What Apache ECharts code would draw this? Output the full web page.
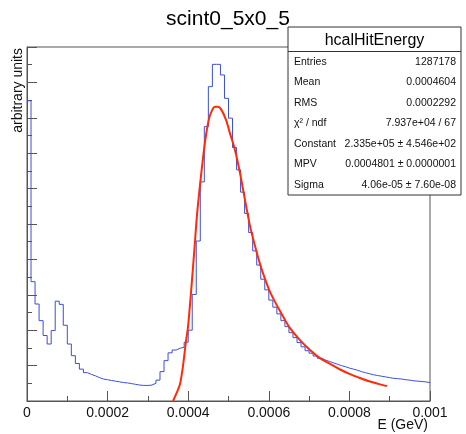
<!DOCTYPE html>
<html>
<head>
<meta charset="utf-8">
<script src="https://cdn.jsdelivr.net/npm/echarts@6/dist/echarts.min.js"></script>
<style>
  html, body { margin: 0; padding: 0; background: #fff; }
  #hist { width: 466px; height: 434px; }
</style>
</head>
<body>
<div id="hist"></div>
<script>
// histogram: 100 bins of 1e-5 GeV, heights in arbitrary units
var binWidth = 0.00001;
var counts = [
  8.48, 3.37, 2.74, 2.27, 1.85, 1.61, 1.99, 2.82, 2.73, 2.14,
  1.61, 1.28, 1.06, 0.90, 0.80, 0.75, 0.71, 0.66, 0.62, 0.60,
  0.58, 0.56, 0.54, 0.52, 0.51, 0.49, 0.47, 0.45, 0.44, 0.44,
  0.45, 0.50, 0.59, 0.83, 1.14, 1.36, 1.44, 1.49, 1.52, 1.66,
  2.00, 3.01, 4.52, 6.19, 7.75, 8.88, 9.51, 9.51, 9.21, 8.55,
  7.99, 7.16, 6.53, 5.90, 5.30, 4.76, 4.24, 3.84, 3.44, 3.14,
  2.85, 2.65, 2.46, 2.27, 2.10, 1.93, 1.79, 1.65, 1.53, 1.42,
  1.35, 1.27, 1.21, 1.16, 1.12, 1.08, 1.04, 1.00, 0.97, 0.93,
  0.90, 0.87, 0.83, 0.80, 0.77, 0.74, 0.72, 0.70, 0.68, 0.66,
  0.64, 0.63, 0.62, 0.60, 0.59, 0.57, 0.56, 0.55, 0.54, 0.52
];

// landau fit curve
var fitE = [
  0.0003623, 0.0003722, 0.0003797, 0.0003871, 0.0003945, 0.0003995,
  0.0004087, 0.0004156, 0.0004218, 0.0004293, 0.0004367, 0.0004442,
  0.0004516, 0.0004591, 0.0004665, 0.0004739, 0.0004831, 0.0004938,
  0.0005037, 0.0005161, 0.0005285, 0.0005409, 0.0005534, 0.0005658,
  0.0005782, 0.0005906, 0.0006030, 0.0006154, 0.0006278, 0.0006402,
  0.0006526, 0.0006774, 0.0007022, 0.0007270, 0.0007519, 0.0007767,
  0.0008015, 0.0008263, 0.0008511, 0.0008759, 0.0008933
];
var fitV = [
  0.00, 0.25, 0.48, 0.99, 1.69, 2.09,
  3.31, 4.32, 5.25, 6.10, 6.86, 7.51,
  7.97, 8.21, 8.31, 8.31, 8.21, 7.94,
  7.56, 7.09, 6.44, 5.68, 4.94, 4.38,
  3.87, 3.45, 3.08, 2.80, 2.54, 2.29,
  2.06, 1.72, 1.44, 1.21, 1.05, 0.89,
  0.76, 0.65, 0.55, 0.47, 0.42
];

var statNames = ['Entries', 'Mean', 'RMS', 'χ² / ndf', 'Constant', 'MPV', 'Sigma'];
var statValues = ['1287178', '0.0004604', '0.0002292', '7.937e+04 / 67',
  '2.335e+05 ± 4.546e+02', '0.0004801 ± 0.0000001', '4.06e-05 ± 7.60e-08'];

function draw_hist() {
  var dom = document.getElementById('hist');
  var myChart = echarts.init(dom, null, { renderer: 'canvas' });
  var font = '"Liberation Sans", Arial, sans-serif';

  var histData = [];
  for (var i = 0; i < counts.length; i++) {
    histData.push([i * binWidth, counts[i]]);
  }
  histData.push([counts.length * binWidth, counts[counts.length - 1]]);

  var fitData = fitE.map(function (e, k) { return [e, fitV[k]]; });

  // stats box
  var boxX = 288, boxY = 27, boxW = 173, boxH = 168, headH = 24.5;
  var rowH = (boxH - headH) / statNames.length;
  var stats = [
    { type: 'rect', shape: { x: boxX, y: boxY, width: boxW, height: boxH },
      style: { fill: '#fff', stroke: '#333', lineWidth: 1 }, z: 100 },
    { type: 'line', shape: { x1: boxX, y1: boxY + headH, x2: boxX + boxW, y2: boxY + headH },
      style: { stroke: '#333', lineWidth: 1 }, z: 101 },
    { type: 'text', x: boxX + boxW / 2, y: boxY + headH / 2 + 1, z: 101,
      style: { text: 'hcalHitEnergy', font: '16px ' + font, fill: '#000',
               align: 'center', verticalAlign: 'middle' } }
  ];
  statNames.forEach(function (n, k) {
    var cy = boxY + headH + rowH * (k + 0.5);
    stats.push({ type: 'text', x: boxX + 6, y: cy, z: 101,
      style: { text: n, font: '10.5px ' + font, fill: '#111', align: 'left', verticalAlign: 'middle' } });
    stats.push({ type: 'text', x: boxX + boxW - 5, y: cy, z: 101,
      style: { text: statValues[k], font: '10.5px ' + font, fill: '#111', align: 'right', verticalAlign: 'middle' } });
  });

  var option = {
    animation: false,
    grid: {
      left: 27, right: 36, top: 47, bottom: 33,
      show: true, borderColor: '#555', borderWidth: 1, backgroundColor: 'transparent'
    },
    xAxis: {
      type: 'value', min: 0, max: 0.001, interval: 0.0002,
      axisLine: { lineStyle: { color: '#555' } },
      axisTick: { inside: true, length: 10, lineStyle: { color: '#555' } },
      minorTick: { show: true, splitNumber: 2, length: 5, lineStyle: { color: '#555' } },
      splitLine: { show: false },
      axisLabel: { color: '#111', fontSize: 14, fontFamily: font, margin: 5,
        formatter: function (v) { return String(+v.toFixed(4)); } }
    },
    yAxis: {
      type: 'value', min: 0, max: 10, interval: 1,
      axisLine: { lineStyle: { color: '#555' } },
      axisTick: { inside: true, length: 10, lineStyle: { color: '#555' } },
      minorTick: { show: true, splitNumber: 2, length: 5, lineStyle: { color: '#555' } },
      splitLine: { show: false },
      axisLabel: { show: false }
    },
    graphic: [
      { type: 'text', x: 228, y: 19, z: 100,
        style: { text: 'scint0_5x0_5', font: '21px ' + font, fill: '#000',
                 align: 'center', verticalAlign: 'middle' } },
      { type: 'text', x: 428, y: 425, z: 100,
        style: { text: 'E (GeV)', font: '14px ' + font, fill: '#111',
                 align: 'right', verticalAlign: 'middle' } },
      { type: 'text', x: 18, y: 48, rotation: Math.PI / 2, z: 100,
        style: { text: 'arbitrary units', font: '14px ' + font, fill: '#111',
                 align: 'right', verticalAlign: 'middle' } }
    ].concat(stats),
    series: [
      {
        name: 'hcalHitEnergy',
        type: 'line',
        step: 'end',
        showSymbol: false,
        data: histData,
        lineStyle: { color: '#3b4fd6', width: 1 },
        z: 2
      },
      {
        name: 'landau',
        type: 'line',
        smooth: 0.3,
        showSymbol: false,
        data: fitData,
        lineStyle: { color: '#ff2a0a', width: 2 },
        z: 3
      }
    ]
  };

  myChart.setOption(option);
  window.addEventListener('resize', myChart.resize);
}
draw_hist();
</script>
</body>
</html>
